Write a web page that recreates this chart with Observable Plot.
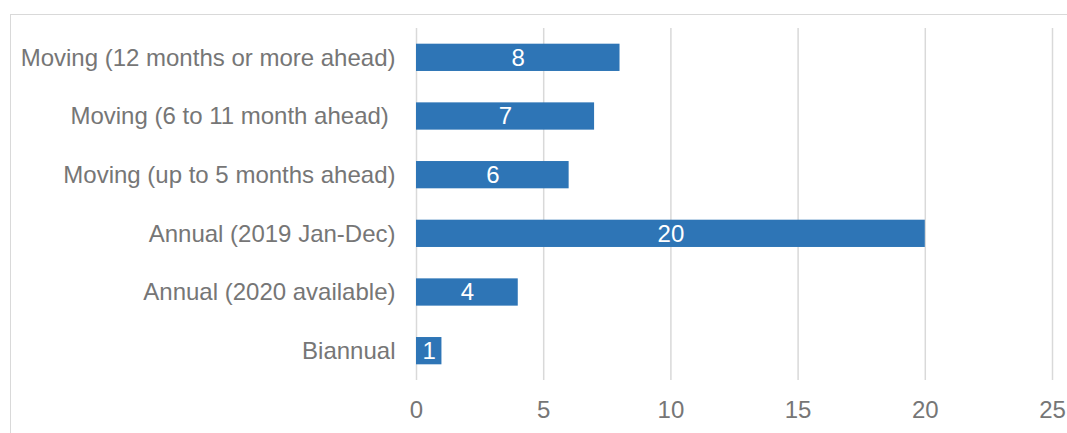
<!DOCTYPE html>
<html>
<head>
<meta charset="utf-8">
<script src="https://cdn.jsdelivr.net/npm/d3@7"></script>
<script src="https://cdn.jsdelivr.net/npm/@observablehq/plot@0.6"></script>
<style>
  html, body { margin: 0; padding: 0; background: #fff; overflow: hidden; }
  #wrap { position: relative; width: 1067px; height: 433px; }
  #border { position: absolute; left: 10px; top: 14px; width: 1100px; height: 500px;
            border-top: 1.5px solid #d9d9d9; border-left: 1.5px solid #d9d9d9; box-sizing: border-box; }
  #chart { position: absolute; left: 0; top: 0; }
  svg text { white-space: pre; }
</style>
</head>
<body>
<div id="wrap"><div id="border"></div><div id="chart"></div></div>
<script>
const categories = [
  "Moving (12 months or more ahead)",
  "Moving (6 to 11 month ahead) ",
  "Moving (up to 5 months ahead)",
  "Annual (2019 Jan-Dec)",
  "Annual (2020 available)",
  "Biannual"
];
const values = [8, 7, 6, 20, 4, 1];
const xTicks = [0, 5, 10, 15, 20, 25];

const data = categories.map((c, i) => ({category: c, value: values[i]}));

const chart = Plot.plot({
  width: 1067,
  height: 433,
  marginLeft: 416,
  marginRight: 15,
  marginTop: 28,
  marginBottom: 53,
  style: {fontFamily: "'Liberation Sans', Arial, sans-serif", fontSize: "24px", color: "#767676", background: "transparent"},
  x: {domain: [0, 25], ticks: xTicks, label: null, tickSize: 0, tickPadding: 20},
  y: {domain: categories, label: null, tickSize: 0, tickPadding: 21, paddingInner: 0.535, paddingOuter: 0.2675, round: false},
  marks: [
    Plot.gridX(xTicks, {stroke: "#d9d9d9", strokeOpacity: 1, strokeWidth: 1.5}),
    Plot.barX(data, {x: "value", y: "category", fill: "#2E75B6"}),
    Plot.text(data, {x: d => d.value / 2, y: "category", text: d => String(d.value), fill: "white", fontSize: 24})
  ]
});
document.getElementById("chart").appendChild(chart);
</script>
</body>
</html>
